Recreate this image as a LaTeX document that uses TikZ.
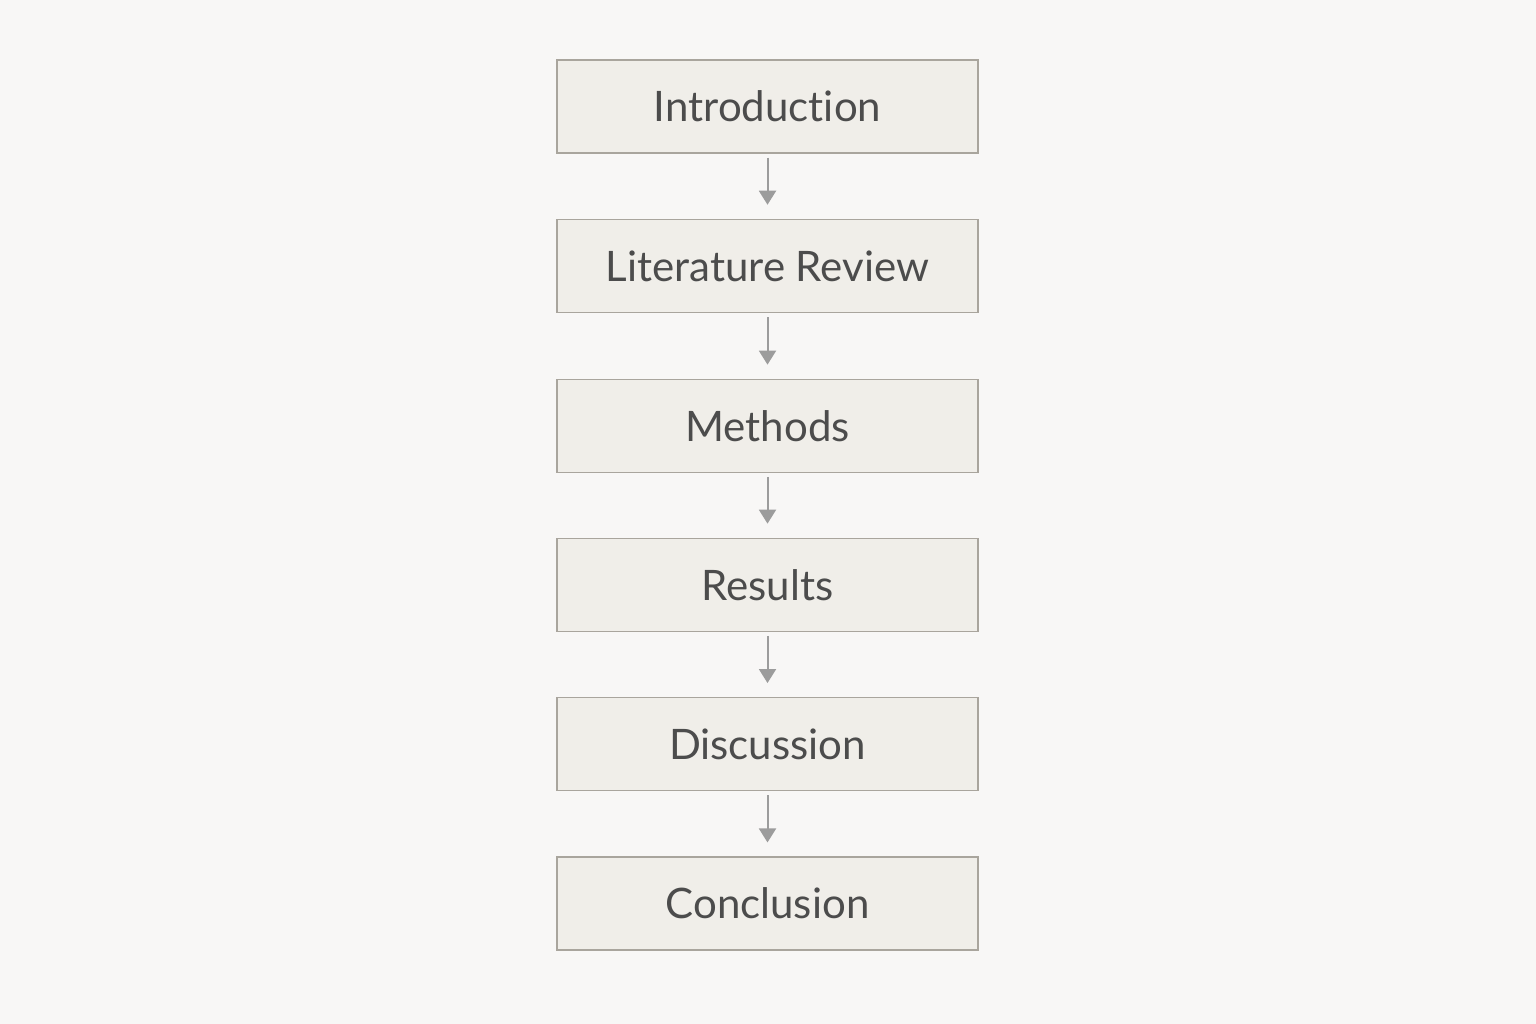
\documentclass[tikz,border=0pt]{standalone}
\usepackage{fontspec}
\setmainfont{Lato}[Ligatures={NoCommon}]
\usetikzlibrary{arrows.meta}
\definecolor{bgc}{HTML}{F8F7F6}
\definecolor{boxfill}{HTML}{F0EEE9}
\definecolor{boxline}{HTML}{A9A59D}
\definecolor{txt}{HTML}{4C4C4C}
\definecolor{arr}{HTML}{9C9C9C}
\tikzset{
  stepbox/.style={draw=boxline, fill=boxfill, line width=1.3pt, minimum width=421pt, minimum height=93pt, inner sep=0pt, font=\fontsize{42}{48}\selectfont, text=txt},
  flowarrow/.style={draw=arr, line width=2pt, -{Triangle[length=14pt,width=17pt]}, shorten <=4pt, shorten >=14pt}
}
\begin{document}
\begin{tikzpicture}[x=1pt,y=-1pt]
\fill[bgc] (0,0) rectangle (1536,1024);
\useasboundingbox (0,0) rectangle (1536,1024);
\node[stepbox] (n1) at (767.5,106.5) {\raisebox{-2pt}{Introduction}};
\node[stepbox] (n2) at (767.5,265.9) {Literature Review};
\node[stepbox] (n3) at (767.5,425.8) {Methods};
\node[stepbox] (n4) at (767.5,584.8) {Results};
\node[stepbox] (n5) at (767.5,744.2) {Discussion};
\node[stepbox] (n6) at (767.5,903.6) {Conclusion};
\draw[flowarrow] (n1) -- (n2);
\draw[flowarrow] (n2) -- (n3);
\draw[flowarrow] (n3) -- (n4);
\draw[flowarrow] (n4) -- (n5);
\draw[flowarrow] (n5) -- (n6);
\end{tikzpicture}
\end{document}
